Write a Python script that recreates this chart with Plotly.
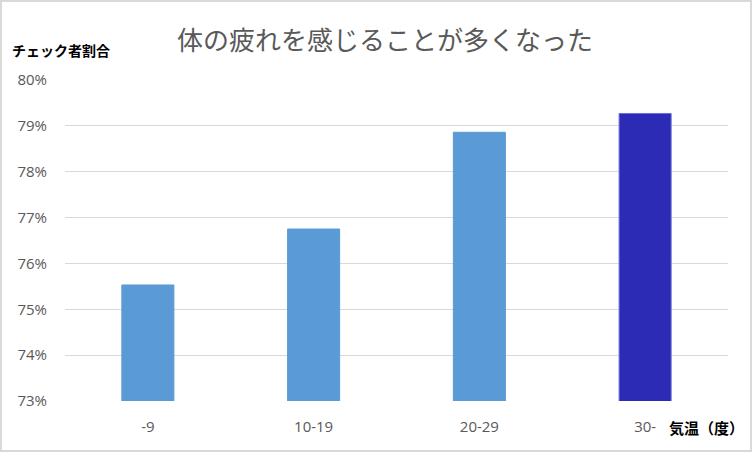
import plotly.graph_objects as go

categories = ["-9", "10-19", "20-29", "30-"]
values = [75.53, 76.75, 78.86, 79.27]
bar_colors = ["#5B9BD5", "#5B9BD5", "#5B9BD5", "#2B2BB5"]
line_colors = ["#5B9BD5", "#5B9BD5", "#5B9BD5", "#6E6ED8"]
y_ticks = [73, 74, 75, 76, 77, 78, 79, 80]

W, H = 752, 452
L, R, T, B = 65, 24, 80, 51
pw, ph = W - L - R, H - T - B

fig = go.Figure(go.Bar(
    x=categories, y=values,
    marker=dict(color=bar_colors, line=dict(color=line_colors, width=1)),
    width=0.314,
))

fig.update_layout(
    width=W, height=H,
    margin=dict(l=L, r=R, t=T, b=B),
    paper_bgcolor="white", plot_bgcolor="white",
    showlegend=False,
    font=dict(family="Open Sans, DejaVu Sans, sans-serif", color="#595959"),
    title=dict(text="体の疲れを感じることが多くなった",
               font=dict(family="Noto Sans CJK JP", size=26, color="#595959"),
               x=385 / W, xanchor="center", y=1 - 41 / H, yanchor="middle"),
    xaxis=dict(showgrid=False, showline=False, ticks="",
               tickfont=dict(size=15, color="#595959"), ticklabelstandoff=15),
    yaxis=dict(range=[73, 80], tickvals=y_ticks,
               ticktext=[f"{v}%" for v in y_ticks],
               gridcolor="#D9D9D9", gridwidth=1, zeroline=False, showline=False,
               tickfont=dict(size=15, color="#595959"), ticklabelstandoff=17),
    bargap=0.686,
)

fig.add_annotation(text="<b>チェック者割合</b>", xref="paper", yref="paper",
                   x=-L / pw + 10 / pw, y=1 + (T - 50) / ph, xanchor="left", yanchor="middle",
                   showarrow=False, font=dict(family="Noto Sans CJK JP", size=14, color="black"))
fig.add_annotation(text="<b>気温（度）</b>", xref="paper", yref="paper",
                   x=(746 - L) / pw, y=-(427 - (H - B)) / ph, xanchor="right", yanchor="middle",
                   showarrow=False, font=dict(family="Noto Sans CJK JP", size=15, color="black"))

fig.add_shape(type="rect", xref="paper", yref="paper",
              x0=-(L - 1) / pw, x1=(W - L - 1) / pw,
              y0=-(B - 1) / ph, y1=1 + (T - 1) / ph,
              line=dict(color="#D9D9D9", width=2), layer="below")

fig.write_html("out.html", config={"displayModeBar": False},
               post_script="document.body.style.margin='0';document.body.style.overflow='hidden';")
